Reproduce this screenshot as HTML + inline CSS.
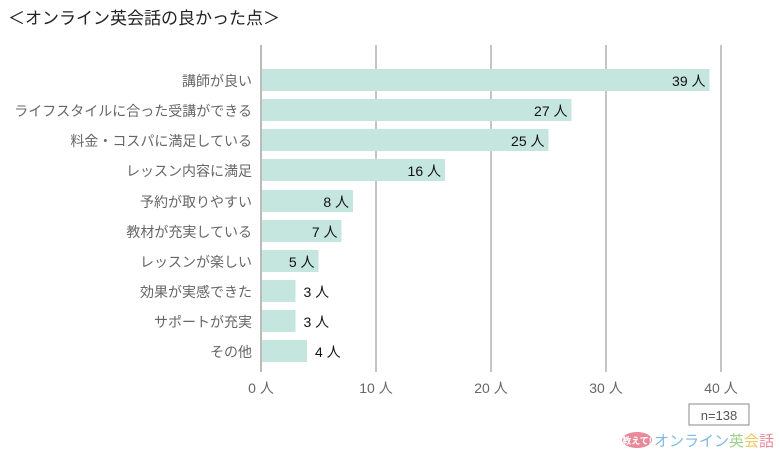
<!DOCTYPE html>
<html><head><meta charset="utf-8"><style>
body{margin:0;background:#fff;}
svg{display:block;font-family:"Liberation Sans","Noto Sans CJK JP",sans-serif;}
</style></head><body>
<svg id="c" width="780" height="452">
<text x="8" y="24" font-size="17" fill="#222">＜オンライン英会話の良かった点＞</text>
<g id="grid"></g><g id="bars"></g>
<rect x="689" y="404" width="60" height="21" fill="#fff" stroke="#888"/>
<text x="719" y="420" font-size="13" fill="#555" text-anchor="middle">n=138</text>
<g>
<ellipse cx="637" cy="440" rx="15" ry="8" fill="#e88a9a"/>
<text x="637" y="444" font-size="9" fill="#fff" text-anchor="middle" font-weight="bold">教えて!</text>
<text x="654" y="446" font-size="15" fill="#7fb8e0">オンライン</text>
<text x="729" y="446" font-size="15" fill="#9fd08a">英</text>
<text x="744" y="446" font-size="15" fill="#f0c860">会</text>
<text x="759" y="446" font-size="15" fill="#e88a9a">話</text>
</g>
</svg>
<script>
const categories=["講師が良い","ライフスタイルに合った受講ができる","料金・コスパに満足している","レッスン内容に満足","予約が取りやすい","教材が充実している","レッスンが楽しい","効果が実感できた","サポートが充実","その他"];
const values=[39,27,25,16,8,7,5,3,3,4];
const ticks=[0,10,20,30,40];
const NS="http://www.w3.org/2000/svg";
const x0=261,sc=11.5,topY=66,step=30,bh=24;
const xs=v=>x0+v*sc;
function mk(t,a,p,txt){const e=document.createElementNS(NS,t);for(const k in a)e.setAttribute(k,a[k]);if(txt!==undefined)e.textContent=txt;p.appendChild(e);return e;}
const g=document.getElementById('grid'),b=document.getElementById('bars');
ticks.forEach(t=>{
 const l=mk('line',{x1:xs(t),x2:xs(t),y1:45,y2:372,stroke:t===0?'#777':'#888','stroke-width':1},g);
 
 
 const tx=mk('text',{x:xs(t),y:393,'font-size':14,fill:'#666','text-anchor':'middle'},g,t+' 人');
 
 
});
categories.forEach((c,i)=>{
 const y=topY+i*step+(i>3?1:0);
 const r=mk('rect',{x:x0+1,y:y+3,width:Math.max(0,xs(values[i])-x0-1),height:bh-2,fill:'#c5e5df'},b);
 
 
 const lab=mk('text',{x:252,y:y+20,'font-size':14,fill:'#666','text-anchor':'end'},b,c);
 
 
 const inside=values[i]>=5;
 const vx=inside?xs(values[i])-4:xs(values[i])+8;
 const vl=mk('text',{x:vx,y:y+20,'font-size':14,fill:'#111','text-anchor':inside?'end':'start'},b,values[i]+' 人');
 
 
});
</script>
</body></html>
